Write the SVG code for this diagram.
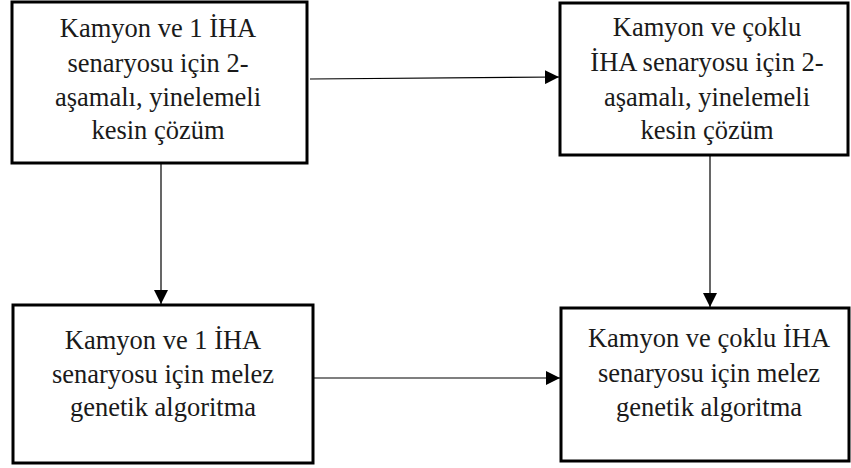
<svg xmlns="http://www.w3.org/2000/svg" width="851" height="468" viewBox="0 0 851 468">
  <defs>
    <marker id="arrow" viewBox="0 0 10 10" refX="10" refY="5" markerWidth="14" markerHeight="14" markerUnits="userSpaceOnUse" orient="auto">
      <path d="M0,0 L10,5 L0,10 z" fill="#000000"/>
    </marker>
  </defs>
  <rect width="851" height="468" fill="#ffffff"/>

  <!-- arrows between the four steps -->
  <g id="connectors" stroke="#000000" stroke-width="1.2" fill="none" marker-end="url(#arrow)">
    <line x1="310" y1="79" x2="559" y2="77"/>
    <line x1="161" y1="164" x2="161" y2="304"/>
    <line x1="710" y1="156" x2="710" y2="307"/>
    <line x1="314" y1="378" x2="560" y2="378"/>
  </g>

  <!-- boxes share a thick black outline; labels share the serif face -->
  <g font-family="Liberation Serif, Times New Roman, serif" font-size="26.5" text-anchor="middle">
    <g id="exact-single">
      <rect x="12" y="2" width="295" height="161" fill="#ffffff" stroke="#000000" stroke-width="3"/>
      <text x="158" y="37" fill="#1a1a1a">Kamyon ve 1 İHA</text>
      <text x="158" y="72" fill="#1a1a1a">senaryosu için 2-</text>
      <text x="158" y="106" fill="#1a1a1a">aşamalı, yinelemeli</text>
      <text x="158" y="139" fill="#1a1a1a">kesin çözüm</text>
    </g>

    <g id="exact-multi">
      <rect x="560" y="3" width="288" height="152" fill="#ffffff" stroke="#000000" stroke-width="3"/>
      <text x="707" y="36" fill="#1a1a1a">Kamyon ve çoklu</text>
      <text x="707" y="71" fill="#1a1a1a">İHA senaryosu için 2-</text>
      <text x="707" y="106" fill="#1a1a1a">aşamalı, yinelemeli</text>
      <text x="707" y="139" fill="#1a1a1a">kesin çözüm</text>
    </g>

    <g id="ga-single">
      <rect x="13" y="305" width="300" height="158" fill="#ffffff" stroke="#000000" stroke-width="3"/>
      <text x="163" y="349" fill="#1a1a1a">Kamyon ve 1 İHA</text>
      <text x="163" y="383" fill="#1a1a1a">senaryosu için melez</text>
      <text x="163" y="416" fill="#1a1a1a">genetik algoritma</text>
    </g>

    <g id="ga-multi">
      <rect x="561" y="308" width="288" height="153" fill="#ffffff" stroke="#000000" stroke-width="3"/>
      <text x="709" y="347" fill="#1a1a1a">Kamyon ve çoklu İHA</text>
      <text x="709" y="382" fill="#1a1a1a">senaryosu için melez</text>
      <text x="709" y="416" fill="#1a1a1a">genetik algoritma</text>
    </g>
  </g>
</svg>
